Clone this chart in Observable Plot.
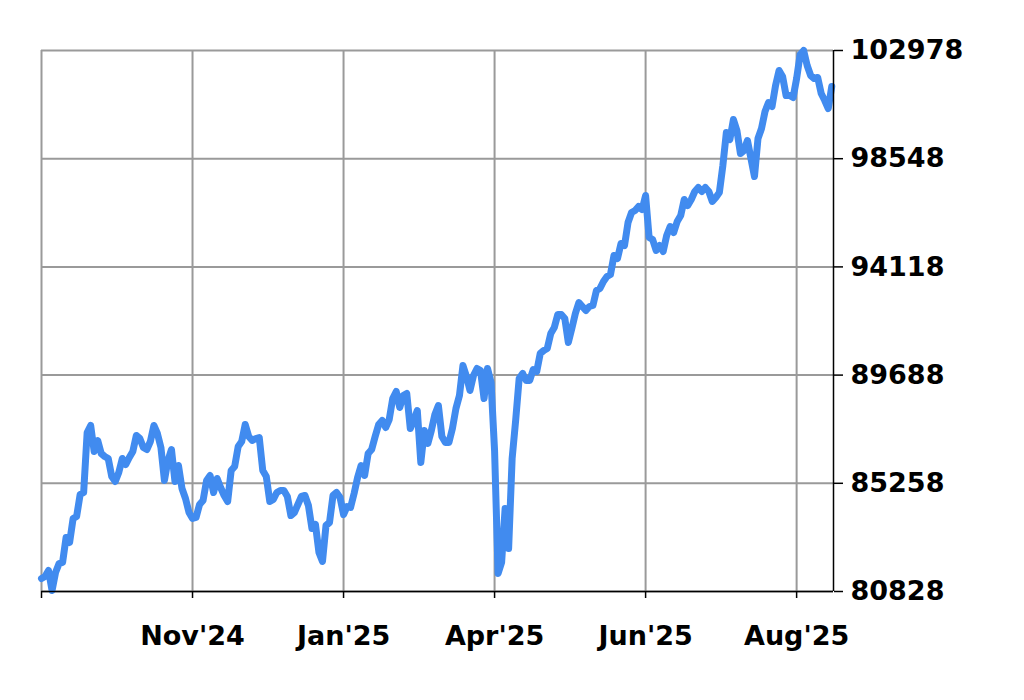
<!DOCTYPE html>
<html>
<head>
<meta charset="utf-8">
<script src="https://cdn.jsdelivr.net/npm/d3@7"></script>
<script src="https://cdn.jsdelivr.net/npm/@observablehq/plot@0.6"></script>
<style>
  html, body { margin: 0; padding: 0; background: #fff; }
</style>
</head>
<body>
<div id="chart"></div>
<script>
// Daily closing values (one per trading session)
const values = [
  81360, 81442, 81688, 80869, 81606, 81974, 82015, 83039, 82834, 83817,
  83899, 84799, 84881, 87338, 87625, 86560, 87010, 86478, 86355, 86273,
  85536, 85332, 85700, 86273, 86028, 86314, 86560, 87215, 87092, 86724,
  86642, 86969, 87625, 87297, 86724, 85373, 86192, 86642, 85332, 85987,
  85045, 84636, 84062, 83817, 83858, 84390, 84554, 85373, 85577, 84881,
  85455, 85086, 84759, 84513, 85782, 85946, 86765, 86969, 87665, 87174,
  87010, 87092, 87133, 85782, 85536, 84513, 84595, 84881, 84963, 84963,
  84718, 83940, 84062, 84390, 84718, 84759, 84349, 83407, 83571, 82425,
  82056, 83530, 83653, 84759, 84881, 84677, 83981, 84308, 84267, 84840,
  85496, 85987, 85577, 86478, 86642, 87174, 87665, 87829, 87543, 87870,
  88730, 89017, 88362, 88853, 88935, 87502, 87829, 88239, 86110, 87420,
  86888, 87420, 88075, 88443, 87174, 86929, 86929, 87502, 88321, 88853,
  90081, 89631, 89058, 89672, 89958, 89876, 88730, 89958, 89385, 86601,
  81565, 82015, 84226, 82589, 86273, 87829, 89549, 89754, 89467, 89467,
  89917, 89835, 90572, 90695, 90777, 91391, 91637, 92169, 92169, 92005,
  91023, 91596, 92210, 92661, 92497, 92333, 92497, 92538, 93152, 93234,
  93520, 93725, 93807, 94585, 94462, 95076, 94994, 95936, 96345, 96427,
  96591, 96468, 97041, 95322, 95240, 94790, 94994, 94749, 95404, 95772,
  95527, 95977, 96223, 96878, 96632, 96878, 97205, 97369, 97205, 97369,
  97205, 96796, 96960, 97164, 98270, 99621, 99334, 100153, 99703, 98761,
  98884, 99293, 98556, 97819, 99375, 99785, 100481, 100849, 100685, 101545,
  102159, 101914, 101136, 101136, 101054, 101832, 102814, 102978, 102364, 101955,
  101832, 101873, 101218, 100931, 100603, 101504
];

// X-axis ticks: session index and its label
const xTickIndex = [0, 43, 86, 129, 172, 215];
const xTickLabels = ["", "Nov'24", "Jan'25", "Apr'25", "Jun'25", "Aug'25"];

// Y-axis ticks
const yTicks = [80828, 85258, 89688, 94118, 98548, 102978];

const data = values.map((v, i) => ({i, v}));
const labelOf = new Map(xTickIndex.map((d, k) => [d, xTickLabels[k]]));

const chart = Plot.plot({
  width: 1024,
  height: 700,
  marginLeft: 41,
  marginRight: 191,
  marginTop: 50,
  marginBottom: 109,
  style: {
    fontFamily: "'DejaVu Sans', sans-serif",
    fontWeight: "bold",
    fontSize: "27px",
    background: "#fff",
    color: "#000"
  },
  x: {domain: [0, 225.5]},
  y: {domain: [80828, 102978]},
  marks: [
    Plot.gridX(xTickIndex, {stroke: "#9a9a9a", strokeOpacity: 1, strokeWidth: 2}),
    Plot.gridY(yTicks, {stroke: "#9a9a9a", strokeOpacity: 1, strokeWidth: 2}),
    Plot.line(data, {x: "i", y: "v", stroke: "#418bef", strokeWidth: 7, strokeLinejoin: "round", strokeLinecap: "round"}),
    Plot.ruleX([225.5], {stroke: "#000", strokeWidth: 1.5}),
    Plot.ruleY([80828], {stroke: "#000", strokeWidth: 1.5}),
    Plot.axisY(yTicks, {
      anchor: "right", tickSize: 9, tickPadding: 8, fontSize: 27,
      tickFormat: d => String(d), label: null, strokeWidth: 1.5
    }),
    Plot.axisX(xTickIndex, {
      anchor: "bottom", tickSize: 7, tickPadding: 27, fontSize: 27,
      tickFormat: d => labelOf.get(d), label: null, strokeWidth: 1.5
    })
  ]
});

document.getElementById("chart").appendChild(chart);
</script>
</body>
</html>
